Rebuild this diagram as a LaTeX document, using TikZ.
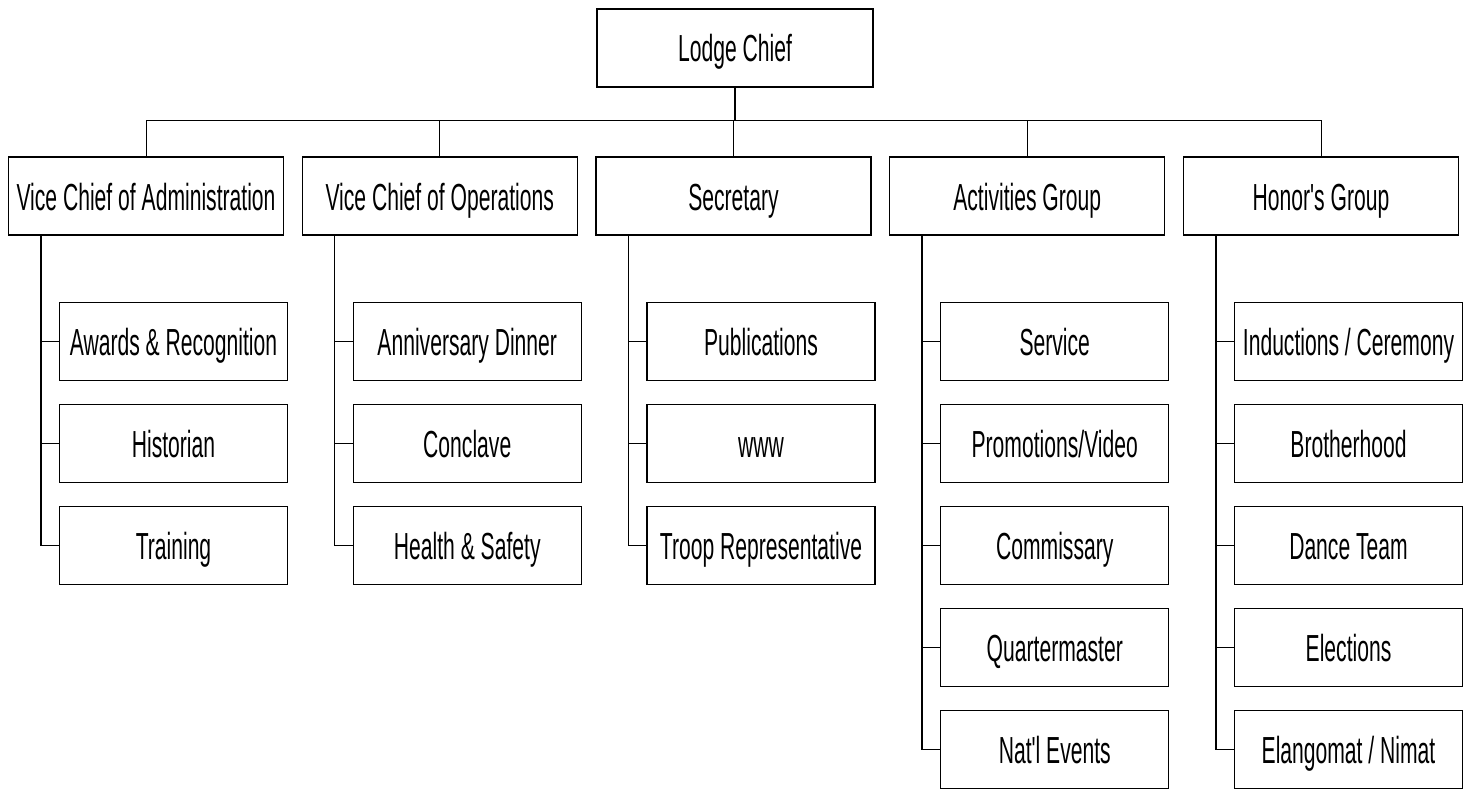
\documentclass[tikz,border=0pt]{standalone}
\usepackage{fontspec}
\usetikzlibrary{calc}
\newfontfamily\orgfont[FakeStretch=0.56]{Liberation Sans}
\begin{document}
\begin{tikzpicture}[x=1pt,y=-1pt,
  box/.style={draw, line width=1.3pt, minimum height=78pt, inner sep=0pt,
    text height=28pt, text depth=0pt,
    font=\orgfont\fontsize{37.7}{40}\selectfont},
  topbox/.style={box, minimum width=275pt},
  kid/.style={box, minimum width=228pt},
  conn/.style={line width=1pt},
  spine/.style={line width=1.3pt}]
\useasboundingbox (0,0) rectangle (1466,789);
\node[box, minimum width=276pt] (lc) at (735,48) {Lodge Chief};
\coordinate (bus) at (735,121);
\foreach \n/\x/\t in {a/146/Vice Chief of Administration, b/439.75/Vice Chief of Operations, c/733.5/Secretary, d/1027.25/Activities Group, e/1321/Honor's Group}{
  \node[topbox] (\n) at (\x,196) {\t};
  \draw[conn] (\n.north) |- (bus);
}
\draw[spine] (lc.south) -- (bus);
% children
\foreach \p/\list in {a/{Awards \& Recognition,Historian,Training},
                      b/{Anniversary Dinner,Conclave,Health \& Safety},
                      c/{Publications,www,Troop Representative},
                      d/{Service,Promotions/Video,Commissary,Quartermaster,Nat'l Events},
                      e/{Inductions / Ceremony,Brotherhood,Dance Team,Elections,Elangomat / Nimat}}{
  \coordinate (\p top) at ($(\p.south west)+(33,0)$);
  \foreach \t [count=\i] in \list {
    \node[kid, anchor=west] (\p\i) at ($(\p.south west)+(51,4+102*\i)$) {\t};
    \draw[spine] (\p top) |- (\p\i.west);
    \draw[conn] (\p\i.west) -- ++(-18,0);
  }
}
\end{tikzpicture}
\end{document}
